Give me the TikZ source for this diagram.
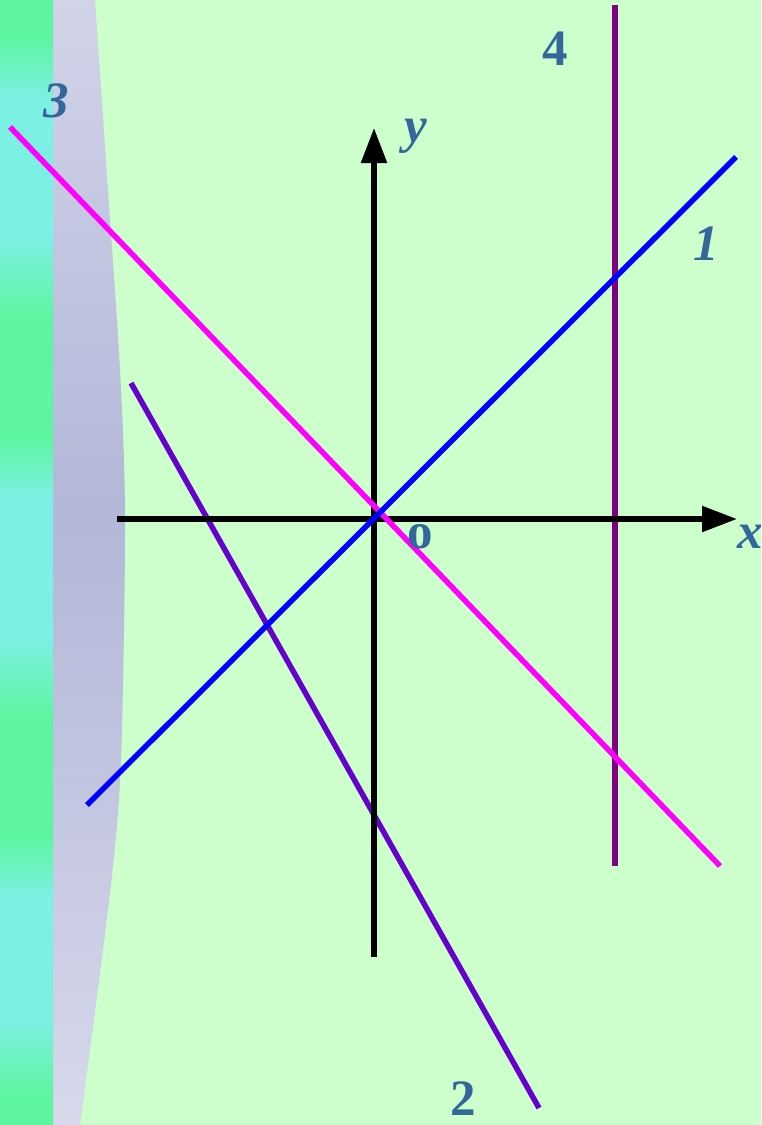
\documentclass[tikz,border=0pt]{standalone}
\usepackage{fontspec}
\setmainfont{Liberation Serif}
\usetikzlibrary{arrows.meta}
\definecolor{bggreen}{HTML}{CCFFCC}
\definecolor{stripgreen}{HTML}{5EF5A0}
\definecolor{stripcyan}{HTML}{7DF0E4}
\definecolor{grayhi}{HTML}{F2F2FA}
\definecolor{graylo}{HTML}{B3B7D8}
\definecolor{lbl}{HTML}{336699}
\definecolor{lineone}{HTML}{0000FF}
\definecolor{linetwo}{HTML}{6600CC}
\definecolor{linethree}{HTML}{FF00FF}
\definecolor{linefour}{HTML}{800080}
\pgfdeclareverticalshading{stripshade}{100bp}{%
color(0bp)=(stripgreen);
color(7.56bp)=(stripgreen);
color(10.22bp)=(stripcyan);
color(17.33bp)=(stripcyan);
color(20bp)=(stripgreen);
color(26.22bp)=(stripgreen);
color(29.78bp)=(stripcyan);
color(35.11bp)=(stripcyan);
color(37.78bp)=(stripgreen);
color(43.11bp)=(stripgreen);
color(46.67bp)=(stripcyan);
color(52.89bp)=(stripcyan);
color(55.56bp)=(stripgreen);
color(60.89bp)=(stripgreen);
color(64.44bp)=(stripcyan);
color(70.67bp)=(stripcyan);
color(73.33bp)=(stripgreen);
color(79.56bp)=(stripgreen);
color(83.11bp)=(stripcyan);
color(88.44bp)=(stripcyan);
color(91.11bp)=(stripgreen);
color(100bp)=(stripgreen)}
\pgfdeclareverticalshading{grayshade}{100bp}{%
color(0bp)=(grayhi!60!white);
color(52bp)=(graylo);
color(100bp)=(grayhi)}
\tikzset{
  lab/.style={text=lbl, inner sep=0pt, anchor=base},
  labup/.style={lab, font=\fontsize{51}{60}\selectfont\bfseries},
  labit/.style={lab, font=\fontsize{51}{60}\selectfont\bfseries\itshape},
  axisline/.style={line width=5.5pt, -{Triangle[length=35pt,width=25pt]}},
  gline/.style={line width=5.5pt}
}
\begin{document}
\begin{tikzpicture}[x=1pt,y=-1pt]
\useasboundingbox (0,0) rectangle (761,1125);
\fill[bggreen] (0,0) rectangle (761,1125);
\shade[shading=grayshade] (52,0) -- plot[smooth] coordinates {(95,0) (108,190) (120,370) (125,520) (121,760) (110,893) (80,1125)} -- (52,1125) -- cycle;
\shade[shading=stripshade] (0,0) rectangle (53,1125);
% coordinates
\coordinate (xs) at (117,519);
\coordinate (xe) at (737,519);
\coordinate (ys) at (374,957);
\coordinate (ye) at (374,128);
\coordinate (a1) at (87,805);
\coordinate (b1) at (736,157);
\coordinate (a2) at (131,383);
\coordinate (b2) at (539,1108);
\coordinate (a3) at (10,127);
\coordinate (b3) at (720,866);
\coordinate (a4) at (615,5);
\coordinate (b4) at (615,866);
% lines
\draw[gline, linefour] (a4) -- (b4);
\draw[gline, linetwo] (a2) -- (b2);
\draw[axisline] (xs) -- (xe);
\draw[axisline] (ys) -- (ye);
\draw[gline, linethree] (a3) -- (b3);
\draw[gline, lineone] (a1) -- (b1);
% labels
\node[labit] (l3) at (56,117) {3};
\node[labup] (l4) at (555,65) {4};
\node[labit] (l1) at (706,260) {1};
\node[labup] (l2) at (463,1115) {2};
\node[labit] (ly) at (416,142) {y};
\node[labup] (lo) at (420,548) {o};
\node[labit, anchor=base west] (lx) at (737,548) {x};
\end{tikzpicture}
\end{document}
